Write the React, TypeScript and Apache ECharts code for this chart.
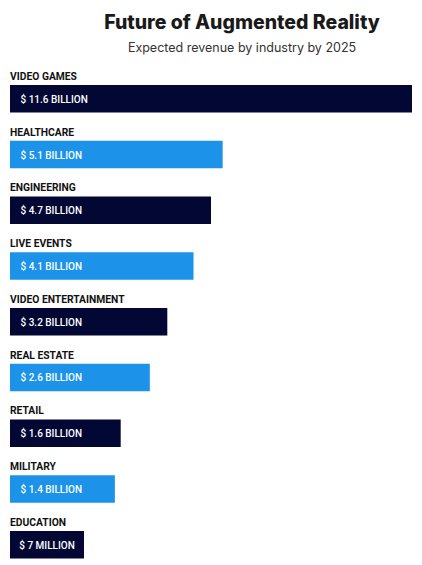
import React, { useEffect, useRef } from "react";
import * as echarts from "echarts";

const categories = [
  "VIDEO GAMES",
  "HEALTHCARE",
  "ENGINEERING",
  "LIVE EVENTS",
  "VIDEO ENTERTAINMENT",
  "REAL ESTATE",
  "RETAIL",
  "MILITARY",
  "EDUCATION",
];
// revenue in billions of USD
const values = [11.6, 5.1, 4.7, 4.1, 3.2, 2.6, 1.6, 1.4, 0.007];
const valueLabels = [
  "$ 11.6 BILLION",
  "$ 5.1 BILLION",
  "$ 4.7 BILLION",
  "$ 4.1 BILLION",
  "$ 3.2 BILLION",
  "$ 2.6 BILLION",
  "$ 1.6 BILLION",
  "$ 1.4 BILLION",
  "$ 7 MILLION",
];
const palette = ["#020833", "#1C93E8"];
const titleText = "Future of Augmented Reality";
const subtitleText = "Expected revenue by industry by 2025";

const BAR_H = 27.5;
const MIN_BAR_PX = 74;

export default function App() {
  const ref = useRef<HTMLDivElement>(null);
  useEffect(() => {
    if (!ref.current) return;
    const chart = echarts.init(ref.current, null, { renderer: "svg" });
    const option = {
      animation: false,
      backgroundColor: "#ffffff",
      graphic: [
        {
          type: "text",
          x: 242,
          y: 22,
          style: {
            text: titleText,
            fill: "#1a1a1a",
            font: "800 19.5px Inter",
            textAlign: "center",
            verticalAlign: "middle",
          },
        },
        {
          type: "text",
          x: 242,
          y: 47,
          style: {
            text: subtitleText,
            fill: "#333333",
            font: "400 12.5px Inter",
            textAlign: "center",
            verticalAlign: "middle",
          },
        },
      ],
      grid: {
        left: 10,
        top: 70.9,
        width: 402,
        height: 501.7,
        outerBoundsMode: "none",
        containLabel: false,
      },
      xAxis: { type: "value", min: -2.2, max: 11.6, show: false },
      yAxis: {
        type: "category",
        data: categories,
        inverse: true,
        show: false,
      },
      series: [
        {
          type: "custom",
          encode: { x: 0, y: 1 },
          data: values.map((v, i) => [v, i]),
          renderItem: (params: any, api: any) => {
            const v = api.value(0);
            const idx = api.value(1);
            const end = api.coord([v, idx]);
            const x0 = params.coordSys.x;
            const yc = end[1];
            let w = end[0] - x0;
            const clamped = w < MIN_BAR_PX;
            if (clamped) w = MIN_BAR_PX;
            return {
              type: "group",
              children: [
                {
                  type: "rect",
                  shape: { x: x0, y: yc - BAR_H / 2, width: w, height: BAR_H },
                  style: { fill: palette[idx % 2] },
                },
                {
                  type: "text",
                  style: {
                    x: clamped ? x0 + w / 2 : x0 + 10.5,
                    y: yc + 0.5,
                    text: valueLabels[idx],
                    fill: "#ffffff",
                    font: "500 10px Roboto",
                    textAlign: clamped ? "center" : "left",
                    verticalAlign: "middle",
                  },
                },
                {
                  type: "text",
                  style: {
                    x: x0,
                    y: yc - 22.3,
                    text: categories[idx],
                    fill: "#111111",
                    font: "700 10.3px Roboto",
                    textAlign: "left",
                    verticalAlign: "middle",
                  },
                },
              ],
            };
          },
        },
      ],
    };
    chart.setOption(option as any);
    return () => chart.dispose();
  }, []);
  return (
    <div
      ref={ref}
      style={{ position: "absolute", left: 0, top: 0, width: 422, height: 565 }}
    />
  );
}
